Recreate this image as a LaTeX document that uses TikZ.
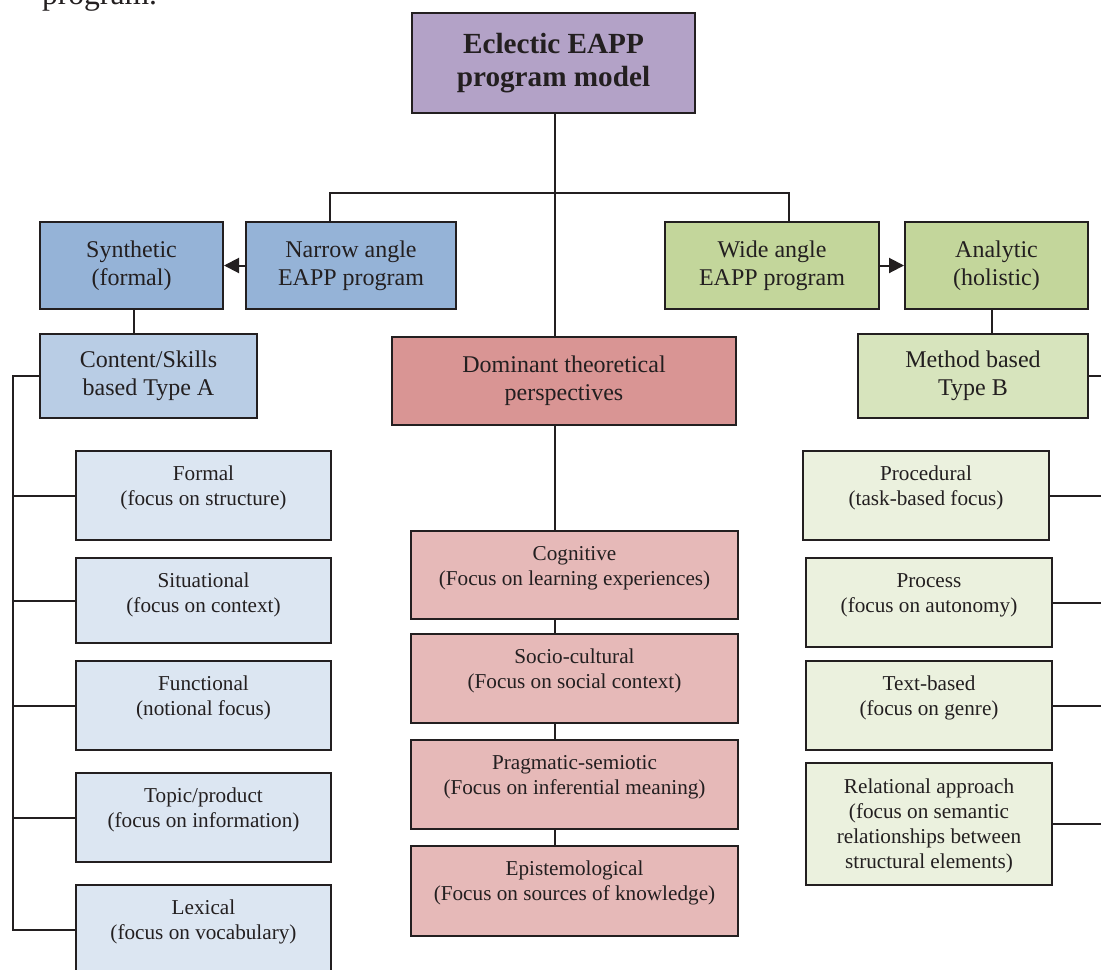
\documentclass[tikz,border=0pt]{standalone}
\usepackage{fontspec}
\setmainfont{Liberation Serif}
\usetikzlibrary{arrows.meta}
\definecolor{ink}{HTML}{231F20}
\definecolor{purplebox}{HTML}{B3A2C7}
\definecolor{bluedark}{HTML}{95B3D7}
\definecolor{bluemid}{HTML}{B9CDE5}
\definecolor{bluelight}{HTML}{DCE6F2}
\definecolor{greendark}{HTML}{C3D69B}
\definecolor{greenmid}{HTML}{D7E4BD}
\definecolor{greenlight}{HTML}{EBF1DE}
\definecolor{reddark}{HTML}{D99594}
\definecolor{redlight}{HTML}{E6B9B8}
\begin{document}
\begin{tikzpicture}[x=0.5pt,y=-0.5pt,
  box/.style={draw=ink, line width=1pt, text=ink, align=center, inner sep=0pt,
    font=\fontsize{12}{14}\selectfont},
  item/.style={box, anchor=north west, font=\fontsize{10.6}{12.5}\selectfont,
    text height=27pt, text depth=#1},
  link/.style={draw=ink, line width=1pt},
  arrow/.style={link, -{Triangle[length=7.5pt,width=7.5pt]}}]
  \useasboundingbox (0,0) rectangle (1101,969);
  \node[anchor=base west, text=ink, font=\fontsize{15.8}{18}\selectfont] (caption) at (35,4) {program.};
  % top of the tree
  \node[box, fill=purplebox, minimum width=141.5pt, minimum height=50pt,
    font=\fontsize{14.6}{16.5}\selectfont\bfseries] (model) at (553.5,63) {Eclectic EAPP\\program model};
  \node[box, fill=bluedark, minimum width=91.5pt, minimum height=43.5pt] (synthetic) at (131.5,265.5) {Synthetic\\(formal)};
  \node[box, fill=bluedark, minimum width=105pt, minimum height=43.5pt] (narrow) at (351,265.5) {Narrow angle\\EAPP program};
  \node[box, fill=greendark, minimum width=107pt, minimum height=43.5pt] (wide) at (772,265.5) {Wide angle\\EAPP program};
  \node[box, fill=greendark, minimum width=91.5pt, minimum height=43.5pt] (analytic) at (996.5,265.5) {Analytic\\(holistic)};
  \node[box, fill=bluemid, minimum width=108.5pt, minimum height=42pt] (content) at (148.5,376) {Content/Skills\\based Type A};
  \node[box, fill=reddark, minimum width=172pt, minimum height=44pt] (dominant) at (564,381) {Dominant theoretical\\perspectives};
  \node[box, fill=greenmid, minimum width=115pt, minimum height=42pt] (method) at (973,376) {Method based\\Type B};
  % type A
  \node[item=17.5pt, fill=bluelight, minimum width=127.5pt] (formal) at (75,450) {Formal\\(focus on structure)};
  \node[item=15.5pt, fill=bluelight, minimum width=127.5pt] (situational) at (75,557) {Situational\\(focus on context)};
  \node[item=17.5pt, fill=bluelight, minimum width=127.5pt] (functional) at (75,660) {Functional\\(notional focus)};
  \node[item=17.5pt, fill=bluelight, minimum width=127.5pt] (topic) at (75,772) {Topic/product\\(focus on information)};
  \node[item=17.5pt, fill=bluelight, minimum width=127.5pt] (lexical) at (75,884) {Lexical\\(focus on vocabulary)};
  % perspectives
  \node[item=17pt, fill=redlight, minimum width=163.5pt] (cognitive) at (410,530) {Cognitive\\(Focus on learning experiences)};
  \node[item=17.5pt, fill=redlight, minimum width=163.5pt] (sociocultural) at (410,633) {Socio-cultural\\(Focus on social context)};
  \node[item=17.5pt, fill=redlight, minimum width=163.5pt] (pragmatic) at (410,739) {Pragmatic-semiotic\\(Focus on inferential meaning)};
  \node[item=18pt, fill=redlight, minimum width=163.5pt] (epistemological) at (410,845) {Epistemological\\(Focus on sources of knowledge)};
  % type B
  \node[item=17.5pt, fill=greenlight, minimum width=123pt] (procedural) at (802,450) {Procedural\\(task-based focus)};
  \node[item=17.5pt, fill=greenlight, minimum width=123pt] (process) at (805,557) {Process\\(focus on autonomy)};
  \node[item=17.5pt, fill=greenlight, minimum width=123pt] (textbased) at (805,660) {Text-based\\(focus on genre)};
  \node[item=8.5pt, text height=52.5pt, fill=greenlight, minimum width=123pt] (relational) at (805,762) {Relational approach\\(focus on semantic\\relationships between\\structural elements)};
  % connectors
  \coordinate (spine) at (555,194);
  \coordinate (lbus) at (13,376);
  \coordinate (rbus) at (1110,376);
  \draw[link] (model.south -| spine) -- (spine |- dominant.north);
  \draw[link] ([xshift=-10.5pt]narrow.north) -- ++(0,-28) -| ([xshift=8.5pt]wide.north);
  \draw[arrow] (narrow) -- (synthetic);
  \draw[arrow] (wide) -- (analytic);
  \draw[link] ([xshift=1.25pt]synthetic.south) -- ([xshift=1.25pt]synthetic.south |- content.north);
  \draw[link] ([xshift=-2.25pt]analytic.south) -- ([xshift=-2.25pt]analytic.south |- method.north);
  \draw[link] (content.west) -- (lbus) |- (lexical.west);
  \foreach \n in {formal,situational,functional,topic}
    \draw[link] (\n.west) -- (\n.west -| lbus);
  \draw[link] (spine |- dominant.south) -- (spine |- cognitive.north);
  \foreach \a/\b in {cognitive/sociocultural,sociocultural/pragmatic,pragmatic/epistemological}
    \draw[link] (spine |- \a.south) -- (spine |- \b.north);
  \foreach \n in {method,procedural,process,textbased,relational}
    \draw[link] (\n.east) -- (\n.east -| rbus);
\end{tikzpicture}
\end{document}
